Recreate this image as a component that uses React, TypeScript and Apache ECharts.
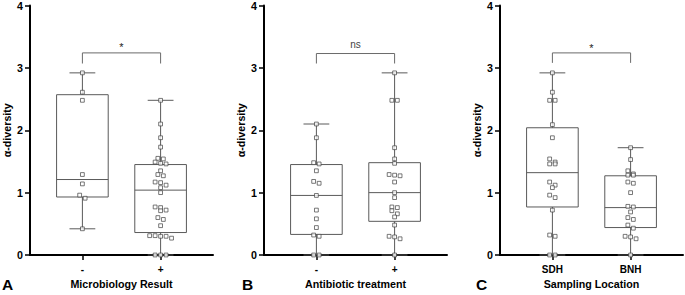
import React, { useEffect, useRef } from "react";
import * as echarts from "echarts";

// ---------- data ----------
const catsA = ["-", "+"];
const catsB = ["-", "+"];
const catsC = ["SDH", "BNH"];
const axisNames = ["Microbiology Result", "Antibiotic treatment", "Sampling Location"];
const panelLetters = ["A", "B", "C"];
const sigLabels = ["*", "ns", "*"];
const yAxisName = "α-diversity";

// individual points (α-diversity)
const ptsA0 = [2.92, 2.61, 2.48, 1.29, 1.14, 0.96, 0.91, 0.42];
const ptsA1 = [2.48, 2.1, 1.88, 1.73, 1.55, 1.54, 1.49, 1.47, 1.46, 1.35, 1.29, 1.27, 1.17, 1.16, 1.12, 1.08, 1.0, 0.77, 0.76, 0.72, 0.71, 0.6, 0.57, 0.47, 0.31, 0.31, 0.3, 0.3, 0.27, 0, 0, 0];
const ptsB0 = [2.1, 1.88, 1.48, 1.46, 1.35, 1.18, 1.15, 0.955, 0.72, 0.58, 0.44, 0.32, 0.3, 0, 0];
const ptsB1 = [2.92, 2.48, 2.48, 1.72, 1.54, 1.47, 1.29, 1.28, 1.27, 1.17, 1.0, 0.92, 0.77, 0.76, 0.71, 0.66, 0.61, 0.48, 0.3, 0.29, 0.26, 0];
const ptsC0 = [2.92, 2.61, 2.48, 2.48, 2.09, 1.88, 1.54, 1.49, 1.46, 1.46, 1.17, 1.12, 1.08, 0.96, 0.92, 0.72, 0.32, 0.3, 0, 0];
const ptsC1 = [1.72, 1.53, 1.35, 1.3, 1.28, 1.28, 1.17, 1.15, 1.0, 0.78, 0.77, 0.69, 0.6, 0.57, 0.48, 0.43, 0.3, 0.29, 0.26, 0];

// box stats: [min, Q1, median, Q3, max]
const boxA0 = [0.42, 0.93, 1.21, 2.57, 2.92];
const boxA1 = [0, 0.36, 1.04, 1.45, 2.48];
const boxB0 = [0, 0.33, 0.955, 1.45, 2.1];
const boxB1 = [0, 0.54, 1.0, 1.48, 2.92];
const boxC0 = [0, 0.77, 1.32, 2.04, 2.92];
const boxC1 = [0, 0.44, 0.76, 1.27, 1.72];

// significance brackets: top level, end level, label level
const bracketTop = [3.24, 3.23, 3.24];
const bracketEnd = [3.07, 3.07, 3.08];
const sigY = [3.33, 3.38, 3.32];

const FONT = "'Liberation Sans', Arial, Helvetica, sans-serif";

function swarm(vals: number[], center: number): number[][] {
  const thr = 0.06;
  const step = 0.07;
  const sorted = [...vals].sort((a, b) => b - a);
  const rows: number[][] = [];
  let cur: number[] = [];
  let start = Infinity;
  for (const v of sorted) {
    if (cur.length && start - v <= thr) {
      cur.push(v);
    } else {
      if (cur.length) rows.push(cur);
      cur = [v];
      start = v;
    }
  }
  if (cur.length) rows.push(cur);
  const out: number[][] = [];
  for (const r of rows) {
    const n = r.length;
    r.forEach((v, i) => out.push([center + (i - (n - 1) / 2) * step, v]));
  }
  return out;
}

export default function App() {
  const ref = useRef<HTMLDivElement>(null);
  useEffect(() => {
    document.body.style.margin = "0";
    if (!ref.current) return;
    const chart = echarts.init(ref.current, undefined, { renderer: "svg" });

    const cats = [catsA, catsB, catsC];
    const pts = [
      [ptsA0, ptsA1],
      [ptsB0, ptsB1],
      [ptsC0, ptsC1],
    ];
    const boxes = [
      [boxA0, boxA1],
      [boxB0, boxB1],
      [boxC0, boxC1],
    ];
    const lefts = [30, 264, 500];
    const width = 183;

    const grid = lefts.map((l) => ({ left: l, top: 5, width, height: 250 }));

    const xAxis = cats.map((c, i) => ({
      type: "value",
      gridIndex: i,
      min: -0.67,
      max: 1.67,
      position: "bottom",
      name: axisNames[i],
      nameLocation: "middle",
      nameGap: 23,
      nameTextStyle: { fontFamily: FONT, fontWeight: "bold", fontSize: 10.7, color: "#000" },
      axisLine: { show: true, onZero: false, lineStyle: { color: "#000", width: 2 } },
      axisTick: { show: true, customValues: [0, 1], length: 5, lineStyle: { color: "#000", width: 1.5 } },
      axisLabel: {
        customValues: [0, 1],
        formatter: (v: number) => c[Math.round(v)] ?? "",
        margin: 9,
        fontFamily: FONT,
        fontWeight: "bold",
        fontSize: 10,
        color: "#000",
      },
      splitLine: { show: false },
    }));

    const yAxis = cats.map((_, i) => ({
      type: "value",
      gridIndex: i,
      min: 0,
      max: 4,
      interval: 1,
      name: yAxisName,
      nameLocation: "middle",
      nameGap: 18,
      nameTextStyle: { fontFamily: FONT, fontWeight: "bold", fontSize: 10.7, color: "#000" },
      axisLine: { show: true, onZero: false, lineStyle: { color: "#000", width: 2 } },
      axisTick: { show: true, length: 5, lineStyle: { color: "#000", width: 1.5 } },
      axisLabel: { margin: 7, fontFamily: FONT, fontWeight: "bold", fontSize: 10.7, color: "#000" },
      splitLine: { show: false },
    }));

    const series: any[] = [];
    for (let p = 0; p < 3; p++) {
      // boxes
      series.push({
        type: "custom",
        xAxisIndex: p,
        yAxisIndex: p,
        z: 2,
        data: boxes[p].map((b, i) => [i, ...b]),
        renderItem: (params: any, api: any) => {
          const x = api.value(0);
          const mn = api.value(1), q1 = api.value(2), md = api.value(3), q3 = api.value(4), mx = api.value(5);
          const hw = 0.33, cw = 0.165;
          const tl = api.coord([x - hw, q3]);
          const br = api.coord([x + hw, q1]);
          const c = api.coord([x, md]);
          const pTop = api.coord([x, mx]);
          const pBot = api.coord([x, mn]);
          const cl = api.coord([x - cw, mx]);
          const cr = api.coord([x + cw, mx]);
          const bl = api.coord([x - cw, mn]);
          const brc = api.coord([x + cw, mn]);
          const st = { stroke: "#5a5a5a", lineWidth: 1, fill: "none" };
          return {
            type: "group",
            children: [
              { type: "line", shape: { x1: pTop[0], y1: pTop[1], x2: pTop[0], y2: tl[1] }, style: st },
              { type: "line", shape: { x1: pBot[0], y1: br[1], x2: pBot[0], y2: pBot[1] }, style: st },
              { type: "line", shape: { x1: cl[0], y1: cl[1], x2: cr[0], y2: cr[1] }, style: st },
              { type: "line", shape: { x1: bl[0], y1: bl[1], x2: brc[0], y2: brc[1] }, style: st },
              { type: "rect", shape: { x: tl[0], y: tl[1], width: br[0] - tl[0], height: br[1] - tl[1] }, style: { ...st, fill: "transparent" } },
              { type: "line", shape: { x1: tl[0], y1: c[1], x2: br[0], y2: c[1] }, style: st },
            ],
          };
        },
      });
      // points
      series.push({
        type: "scatter",
        xAxisIndex: p,
        yAxisIndex: p,
        z: 3,
        symbol: "rect",
        symbolSize: 3.8,
        itemStyle: { color: "#fff", borderColor: "#444", borderWidth: 0.9 },
        data: [...swarm(pts[p][0], 0), ...swarm(pts[p][1], 1)],
      });
      // bracket + significance label
      series.push({
        type: "custom",
        xAxisIndex: p,
        yAxisIndex: p,
        z: 2,
        data: [[0, 1, bracketTop[p], bracketEnd[p], sigY[p]]],
        renderItem: (params: any, api: any) => {
          const a = api.coord([api.value(0), api.value(3)]);
          const b = api.coord([api.value(0), api.value(2)]);
          const c = api.coord([api.value(1), api.value(2)]);
          const d = api.coord([api.value(1), api.value(3)]);
          const t = api.coord([(api.value(0) + api.value(1)) / 2, api.value(4)]);
          const isNs = sigLabels[p] === "ns";
          return {
            type: "group",
            children: [
              { type: "polyline", shape: { points: [a, b, c, d] }, style: { stroke: "#6a6a6a", lineWidth: 1, fill: "none" } },
              {
                type: "text",
                x: t[0],
                y: t[1],
                style: {
                  text: sigLabels[p],
                  align: "center",
                  verticalAlign: "middle",
                  fontFamily: FONT,
                  fontSize: isNs ? 10 : 11,
                  fill: isNs ? "#444" : "#222",
                },
              },
            ],
          };
        },
      });
    }

    const letterX = [2, 242, 476];
    const graphic = panelLetters.map((L, i) => ({
      type: "text",
      x: letterX[i],
      y: 284,
      style: { text: L, fontFamily: FONT, fontWeight: "bold", fontSize: 15.5, fill: "#000", verticalAlign: "middle" },
    }));

    chart.setOption({
      animation: false,
      backgroundColor: "#fff",
      grid,
      xAxis,
      yAxis,
      series,
      graphic,
    });
    return () => chart.dispose();
  }, []);
  return <div ref={ref} style={{ width: 685, height: 295 }} />;
}
